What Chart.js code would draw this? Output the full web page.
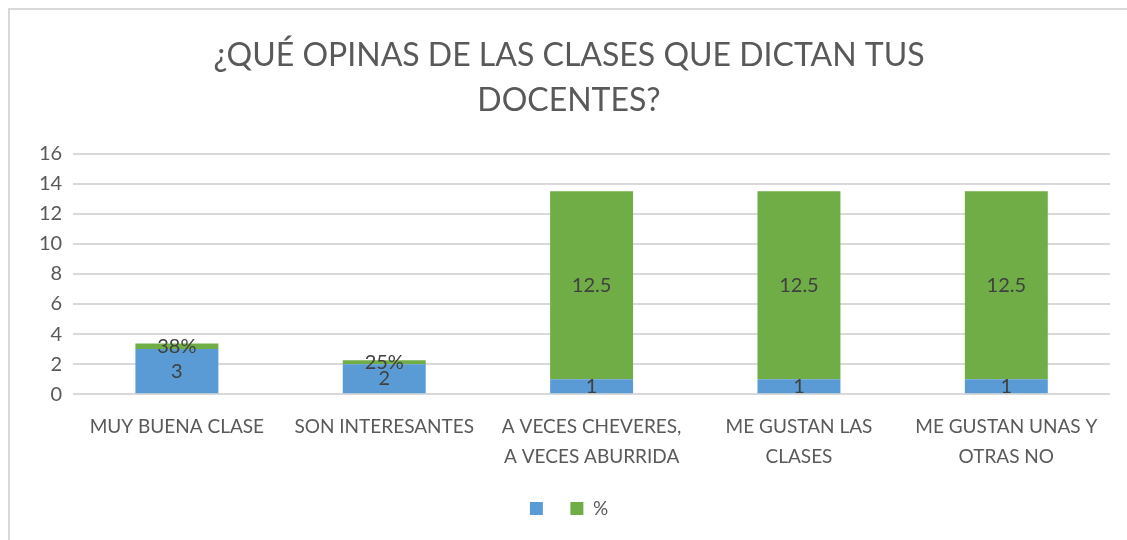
<!DOCTYPE html>
<html>
<head>
<meta charset="utf-8">
<script src="https://cdn.jsdelivr.net/npm/chart.js@4"></script>
<style>
  html, body { margin: 0; padding: 0; background: #fff; }
  #frame { position: absolute; left: 8px; top: 8px; width: 1200px; height: 600px;
           border-left: 2px solid #d9d9d9; border-top: 2px solid #d9d9d9; }
  #wrap { position: absolute; left: 0; top: 0; width: 1127px; height: 540px; }
</style>
</head>
<body>
<div id="frame"></div>
<div id="wrap"><canvas id="myChart" width="1127" height="540"></canvas></div>
<script>
const categories = [
    'MUY BUENA CLASE',
    'SON INTERESANTES',
    ['A VECES CHEVERES,', 'A VECES ABURRIDA'],
    ['ME GUSTAN LAS', 'CLASES'],
    ['ME GUSTAN UNAS Y', 'OTRAS NO']
];
const countValues = [3, 2, 1, 1, 1];
const percentValues = [0.375, 0.25, 12.5, 12.5, 12.5];
const yTicks = [0, 2, 4, 6, 8, 10, 12, 14, 16];

const fontFamily = 'Lato, "Open Sans", sans-serif';
const textColor = '#595959';

// labels in the middle of each segment
const barLabels = {
    id: 'barLabels',
    afterDatasetsDraw(chart) {
        const ctx = chart.ctx;
        ctx.save();
        ctx.font = '20px ' + fontFamily;
        ctx.fillStyle = '#404040';
        ctx.textAlign = 'center';
        ctx.textBaseline = 'middle';
        chart.data.datasets.forEach((ds, i) => {
            const meta = chart.getDatasetMeta(i);
            meta.data.forEach((bar, j) => {
                let v = ds.data[j];
                let text = v < 1 ? Math.round(v * 100) + '%' : String(v);
                let y = (bar.y + bar.base) / 2;
                ctx.fillText(text, bar.x, y);
            });
        });
        ctx.restore();
    }
};

let ctx = document.getElementById('myChart').getContext('2d');
let chart = new Chart(ctx, {
    type: 'bar',
    data: {
        labels: categories,
        datasets: [{
            label: '',
            data: countValues,
            backgroundColor: '#5b9bd5',
            borderColor: '#5b9bd5',
            borderWidth: 0
        },
        {
            label: '%',
            data: percentValues,
            backgroundColor: '#70ad47',
            borderColor: '#70ad47',
            borderWidth: 0
        }]
    },
    options: {
        responsive: false,
        animation: false,
        layout: {
            padding: { left: 28, right: 17, top: 33, bottom: 12 }
        },
        datasets: {
            bar: { barPercentage: 0.4, categoryPercentage: 1.0 }
        },
        plugins: {
            title: {
                display: true,
                text: ['¿QUÉ OPINAS DE LAS CLASES QUE DICTAN TUS', 'DOCENTES?'],
                color: textColor,
                font: { family: fontFamily, size: 32, weight: 'normal', lineHeight: 1.4 },
                padding: { top: 0, bottom: 31 }
            },
            legend: {
                position: 'bottom',
                labels: {
                    color: textColor,
                    font: { family: fontFamily, size: 19 },
                    boxWidth: 13,
                    boxHeight: 13,
                    padding: 18
                }
            },
            tooltip: { enabled: false }
        },
        scales: {
            x: {
                stacked: true,
                grid: { display: false },
                border: { display: false },
                ticks: {
                    color: textColor,
                    font: { family: fontFamily, size: 19, lineHeight: 1.6 },
                    maxRotation: 0,
                    autoSkip: false,
                    padding: 9
                }
            },
            y: {
                stacked: true,
                min: 0,
                max: 16,
                afterBuildTicks(axis) {
                    axis.ticks = yTicks.map(v => ({ value: v }));
                },
                grid: { color: '#d9d9d9', lineWidth: 2, drawTicks: false },
                border: { display: false },
                ticks: {
                    color: textColor,
                    font: { family: fontFamily, size: 20 },
                    padding: 11
                }
            }
        }
    },
    plugins: [barLabels]
});
</script>
</body>
</html>
